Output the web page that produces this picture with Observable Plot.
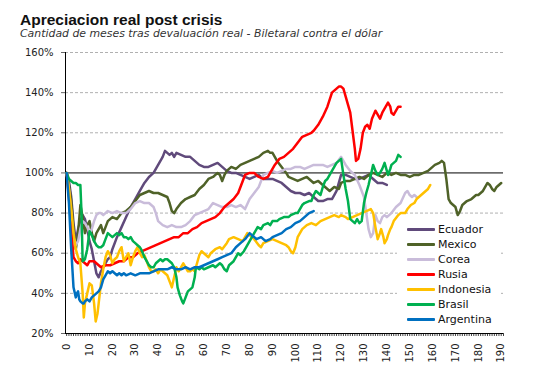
<!DOCTYPE html>
<html>
<head>
<meta charset="utf-8">
<script src="https://cdn.jsdelivr.net/npm/d3@7"></script>
<script src="https://cdn.jsdelivr.net/npm/@observablehq/plot@0.6"></script>
<style>
  html, body { margin: 0; padding: 0; background: #fff; }
  #wrap { position: relative; width: 533px; height: 384px; overflow: hidden; }
  #header { position: relative; height: 44px; }
  #title { position: absolute; left: 20px; top: 12px; font: bold 15.5px/15px "Liberation Sans", Arial, sans-serif; color: #111; white-space: nowrap; }
  #subtitle { position: absolute; left: 20px; top: 29px; font: italic 10.9px/10px "DejaVu Sans", Verdana, sans-serif; color: #333; white-space: nowrap; }
  #legend { position: absolute; left: 397px; top: 219px; width: 104px; height: 110px; background: #fff; padding-top: 3px; box-sizing: border-box; }
  .row { height: 15px; display: flex; align-items: center; font: 11px "DejaVu Sans", Verdana, sans-serif; color: #111; }
  .sw { width: 28px; height: 3px; margin-left: 10px; margin-right: 3px; border-radius: 1px; }
</style>
</head>
<body>
<div id="wrap">
  <div id="header">
    <div id="title">Apreciacion real post crisis</div>
    <div id="subtitle">Cantidad de meses tras devaluación real - Biletaral contra el dólar</div>
  </div>
  <div id="chart"></div>
  <div id="legend"></div>
</div>
<script>
const seriesNames = ["Ecuador", "Mexico", "Corea", "Rusia", "Indonesia", "Brasil", "Argentina"];
const seriesColors = ["#604A7B", "#4F6228", "#C9BCDA", "#FF0000", "#FFC000", "#00B050", "#0070C0"];

const yTicks = [20, 40, 60, 80, 100, 120, 140, 160];
const gridTicks = [40, 60, 80, 120, 140, 160];
const xLabelTicks = [0, 10, 20, 30, 40, 50, 60, 70, 80, 90, 100, 110, 120, 130, 140, 150, 160, 170, 180, 190];
const xMinorTicks = d3.range(0, 192);

const ecuador = [[0,100],[1,96],[2,88],[3,75],[4,66],[5,72],[6,76],[7,79],[8,77],[9,72],[10,66],[11,62],[12,56],[13,50],[14,48],[15,51],[16,53],[17,55],[18,57],[19,58],[20,62],[22,68],[24,73],[26,78],[28,83],[30,87],[32,91],[34,95],[36,98],[38,100],[40,104],[42,108],[43,111],[44,110],[45,109],[46,110],[47,108],[48,110],[50,109],[52,108],[54,108],[56,106],[58,104],[60,103],[62,103],[64,104],[66,105],[68,103],[70,101],[72,100],[74,100],[76,99],[78,98],[80,97],[82,98],[84,99],[86,97],[88,97],[90,97],[92,96],[94,95],[96,93],[98,91],[100,90],[102,90],[104,89],[106,90],[108,88],[110,86],[112,86],[114,87],[116,87],[117,89],[118,91],[119,95],[120,99],[122,99],[124,98],[126,97],[128,97],[130,98],[132,99],[134,97],[136,95],[138,95],[140,94]];

const mexico = [[0,100],[1,94],[2,86],[3,72],[4,62],[5,70],[6,84],[7,78],[8,70],[9,74],[10,76],[11,70],[12,66],[13,70],[14,72],[15,74],[16,70],[17,73],[18,76],[20,78],[22,77],[24,80],[26,81],[28,83],[30,86],[32,89],[34,90],[36,91],[38,90],[40,90],[42,89],[44,88],[45,85],[46,81],[47,80],[48,82],[50,85],[52,87],[54,88],[56,89],[58,92],[60,94],[62,97],[64,98],[66,100],[67,99],[68,96],[69,99],[70,101],[72,103],[74,102],[76,104],[78,105],[80,106],[82,107],[84,108],[85,109],[86,110],[88,111],[89,110],[90,110],[91,108],[92,106],[94,103],[96,100],[97,98],[99,97],[101,96],[103,97],[105,98],[107,96],[108,95],[110,96],[112,94],[114,92],[115,91],[117,93],[119,92],[120,95],[122,96],[124,96],[126,97],[128,98],[130,97],[132,99],[134,100],[136,99],[138,98],[140,100],[142,99],[144,100],[146,99],[148,99],[150,98],[152,99],[154,99],[156,100],[158,101],[160,103],[161,104],[163,105],[164,106],[165,105],[166,97],[167,87],[168,85],[170,83],[171,79],[172,81],[173,84],[175,86],[177,87],[179,89],[180,89],[182,91],[184,95],[185,94],[186,92],[187,91],[188,93],[189,94],[190,95]];

const corea = [[0,100],[1,92],[2,80],[3,68],[4,64],[5,66],[6,72],[7,76],[8,75],[9,73],[10,70],[11,72],[12,76],[13,79],[14,80],[15,80],[16,79],[18,81],[20,80],[22,81],[24,80],[26,80],[28,82],[30,85],[32,86],[34,85],[36,85],[38,83],[39,80],[40,76],[42,74],[44,73],[46,74],[48,73],[50,73],[52,74],[54,76],[56,79],[58,80],[60,81],[62,82],[64,85],[66,84],[68,83],[70,83],[72,84],[74,83],[76,84],[78,82],[80,87],[82,90],[84,93],[86,99],[88,100],[90,101],[92,100],[94,101],[96,102],[98,102],[100,103],[102,103],[104,102],[106,103],[108,104],[110,104],[112,104],[114,103],[116,104],[118,105],[120,108],[122,104],[124,101],[126,99],[128,94],[130,88],[131,80],[132,72],[133,68],[134,70],[135,79],[136,76],[137,75],[138,78],[139,79],[140,78],[142,80],[144,83],[146,85],[148,90],[149,91],[150,89],[151,88],[152,89],[153,88]];

const rusia = [[0,100],[1,88],[2,72],[3,58],[4,56],[5,55],[6,57],[7,56],[8,55],[9,54],[10,56],[12,56],[14,54],[15,53],[17,54],[19,54],[21,55],[23,56],[25,56],[27,58],[29,58],[31,60],[33,61],[35,62],[37,63],[39,64],[41,65],[43,66],[45,67],[47,68],[49,68],[51,70],[53,70],[55,72],[57,73],[59,75],[61,76],[63,77],[65,78],[67,80],[69,83],[71,85],[73,87],[75,90],[76,93],[77,96],[78,99],[80,100],[82,100],[84,98],[86,97],[88,98],[89,100],[91,104],[93,107],[95,108],[97,110],[99,112],[101,115],[103,118],[105,119],[107,120],[108,121],[110,124],[112,128],[114,133],[116,140],[118,142],[119,143],[120,143],[121,142],[122,138],[123,134],[124,130],[125,121],[126,112],[126.5,106],[127.5,107],[128.5,112],[129.5,120],[130.5,123],[131.5,124],[132.5,122],[133.5,127],[135,131],[136,129],[137,127],[138,130],[139,132],[140.5,135],[141.5,133],[142,130],[143,129],[144,131],[145,133],[146,133]];

const indonesia = [[0,100],[1,92],[2,82],[3,70],[4,62],[5,58],[6,55],[7,40],[7.5,28],[8,35],[9,40],[10,45],[11,44],[12,35],[12.7,26],[13.5,30],[14,35],[15,45],[16,52],[17,58],[18,61],[19,59],[20,55],[21,57],[22,58],[23,61],[24,63],[25,56],[26,58],[27,60],[28,54],[29,58],[30,61],[31,63],[32,60],[33,58],[34,59],[35,56],[36,53],[37,51],[38,51],[39,52],[40,50],[41,52],[42,51],[43,50],[44,49],[45,46],[46,43],[47,48],[48,53],[49,51],[50,53],[51,55],[52,53],[53,51],[54,51],[55,52],[56,51],[57,55],[58,59],[59,61],[60,60],[62,58],[63,60],[64,61],[65,62],[67,63],[68,62],[70,65],[71,67],[73,68],[75,67],[77,66],[79,70],[80,69],[82,67],[84,64],[85,63],[86,65],[88,66],[90,67],[92,66],[94,65],[96,64],[97,63],[98,61],[99,60],[100,63],[101,68],[103,72],[105,74],[107,75],[109,74],[111,76],[113,77],[115,78],[117,79],[119,78],[120,79],[122,78],[123,77],[125,78],[127,79],[129,80],[131,81],[133,82],[134,80],[135,73],[136,67],[137,70],[137.5,72],[138.5,68],[139,65],[140,67],[140.5,69],[141.5,72],[142,73],[143,76],[145,79],[146,80],[148,80],[149,82],[150.5,84],[152,85],[153,87],[155,89],[156,90],[157,91],[158,92],[159,94]];

const brasil = [[0,100],[1,97],[2,96],[3,95],[4,95],[5,94],[6,94],[6.5,80],[7,56],[8,57],[9,62],[10,71],[11,69],[12,66],[13,64],[14,63],[15,63],[16,64],[17,67],[18,70],[19,69],[20,68],[21,69],[22,70],[23,69],[24,70],[25,68],[26,68],[27,67],[28,68],[29,66],[30,65],[31,64],[32,63],[33,61],[34,58],[35,56],[36,54],[37,53],[38,53],[39,55],[40,56],[41,57],[42,56],[43,57],[44,57],[45,56],[46,55],[47,53],[48,48],[48.5,43],[49.5,39],[50.5,36],[51,35],[52,38],[53,41],[54,42],[55,43],[56,48],[56.5,53],[58,52],[59,53],[60,52],[62,53],[64,54],[65,53],[66,54],[67,55],[68,54],[69,52],[70,51],[71,54],[73,56],[74,58],[75,60],[76,59],[77.5,61],[79,64],[80,66],[82,70],[83.5,73],[85,72],[86,74],[88,75],[89,74],[90,76],[92,76],[93,77],[95,78],[97,78],[98,79],[100,80],[101,80],[103,84],[104,85],[106,86],[107,86],[108,89],[109,91],[110,90],[111,89],[112,93],[113,96],[114,97],[115.5,100],[117,103],[118,105],[119,106],[120,107],[121,99],[122,92],[123,86],[124,77],[125,76],[126,75],[127,77],[128,75],[129,76],[130,85],[131,90],[132,94],[133,99],[134,104],[135,101],[136,99],[137,100],[138,102],[139,105],[140,101],[140.5,99],[141.5,102],[142,104],[143,105],[144,106],[145,109],[146,108]];

const argentina = [[0,100],[1,85],[2,62],[3,43],[4,38],[4.5,40],[5,41],[5.5,37],[6,36],[7,35],[7.5,35],[8,36],[9,37],[10,36],[11,38],[12,39],[13,40],[14,41],[15,43],[16,47],[17,49],[18,51],[19,50],[20,51],[21,50],[22,49],[23,50],[24,49],[25,50],[26,49],[28,50],[30,49],[32,50],[34,50],[36,50],[38,51],[40,52],[42,52],[44,52],[46,53],[48,52],[50,52],[52,53],[54,52],[56,53],[58,53],[60,54],[62,55],[64,56],[66,57],[68,58],[70,59],[72,60],[74,63],[76,65],[78,67],[80,70],[81,69],[83,67],[85,68],[87,66],[89,67],[90,68],[92,69],[94,70],[96,72],[98,73],[100,75],[102,76],[104,78],[106,80],[108,81]];

const seriesData = [ecuador, mexico, corea, rusia, indonesia, brasil, argentina];

const rows = [];
seriesData.forEach((s, i) => s.forEach(([m, v]) => rows.push({ serie: seriesNames[i], m, v })));

const chart = Plot.plot({
  width: 533,
  height: 340,
  marginTop: 8,
  marginLeft: 65,
  marginRight: 30,
  marginBottom: 51,
  style: { fontFamily: "'DejaVu Sans', Verdana, sans-serif", fontSize: "10px", color: "#222", background: "#fff", overflow: "visible" },
  x: { domain: [-0.5, 191] },
  y: { domain: [20, 160] },
  color: { domain: seriesNames, range: seriesColors },
  marks: [
    Plot.gridY(gridTicks, { stroke: "#b0b0b0", strokeOpacity: 1, strokeDasharray: "3,2" }),
    Plot.ruleY([100], { stroke: "#000", strokeWidth: 1 }),
    Plot.axisY(yTicks, { tickSize: 4, tickPadding: 8, tickFormat: d => d + "%", label: null, stroke: "#666" }),
    Plot.axisX(xMinorTicks, { tickSize: 3, tickFormat: () => "", label: null, stroke: "#444" }),
    Plot.axisX(xLabelTicks, { tickSize: 0, tickPadding: 10, tickRotate: -90, label: null }),
    Plot.ruleX([-0.5], { stroke: "#000" }),
    Plot.ruleY([20], { stroke: "#000" }),
    Plot.line(rows, { x: "m", y: "v", z: "serie", stroke: "serie", strokeWidth: 2.5, strokeLinejoin: "round", strokeLinecap: "round" })
  ]
});
document.getElementById("chart").appendChild(chart);

const legend = document.getElementById("legend");
seriesNames.forEach((n, i) => {
  const r = document.createElement("div");
  r.className = "row";
  const sw = document.createElement("span");
  sw.className = "sw";
  sw.style.background = seriesColors[i];
  const t = document.createElement("span");
  t.textContent = n;
  r.appendChild(sw);
  r.appendChild(t);
  legend.appendChild(r);
});
</script>
</body>
</html>
